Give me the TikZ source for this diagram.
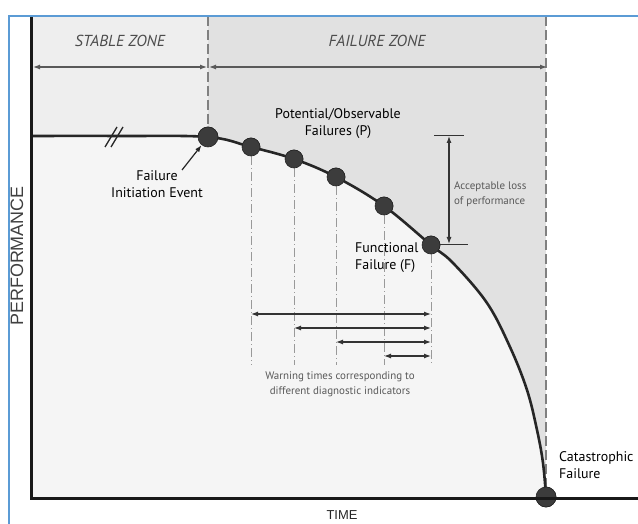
\documentclass[tikz,border=0pt]{standalone}
\usepackage{fontspec}
\setmainfont{PT Sans}
\newfontfamily\axisfont{Liberation Sans}
\usepackage{xcolor}
\usetikzlibrary{arrows.meta}
\definecolor{frameblue}{RGB}{91,155,213}
\definecolor{stablegray}{RGB}{238,238,238}
\definecolor{failgray}{RGB}{225,225,225}
\definecolor{undergray}{RGB}{245,245,245}
\definecolor{dotgray}{RGB}{60,60,60}

\begin{document}
\begin{tikzpicture}[x=1bp,y=-1bp,
  curve/.style={line width=2.6bp,draw=black!85},
  dot/.style={circle,fill=dotgray,draw=black!85,line width=0.6bp,inner sep=0pt,minimum size=18bp},
  vdash/.style={draw=black!40,line width=1bp,dash pattern=on 9bp off 3bp on 1bp off 3bp},
  zdash/.style={draw=black!50,line width=1.2bp,dash pattern=on 10bp off 4bp},
  tip/.style={line width=1.2bp,draw=black!80,{Latex[length=7bp,width=5bp]}-{Latex[length=7bp,width=5bp]}},
  lbl/.style={text=black,font=\fontsize{14}{17}\selectfont,inner sep=0pt},
  note/.style={text=black!65,font=\fontsize{11}{15}\selectfont,inner sep=0pt},
  zone/.style={text=black!70,font=\itshape\fontsize{16}{18}\selectfont}]
\clip (0,0) rectangle (638,524);
\fill[white] (0,0) rectangle (638,524);
\fill[stablegray] (31,16) rectangle (546,498);
\fill[failgray] (208,16) rectangle (546,498);
\node[dot,minimum size=20bp] (init) at (208,137) {};
\node[dot] (p1) at (251,147) {};
\node[dot] (p2) at (294,159) {};
\node[dot] (p3) at (336,177) {};
\node[dot] (p4) at (384,206) {};
\node[dot] (fnc) at (431,245) {};
\node[dot,minimum size=20bp] (cat) at (546,497) {};
\fill[undergray] plot[smooth,tension=0.6] coordinates {(31,136) (120,136) (init.center) (p1.center) (p2.center) (p3.center) (p4.center) (fnc.center) (453,263) (487,303) (510,347) (527,390) (537,430) (543,463) (cat.center)} -- (31,498) -- cycle;
\draw[zdash] (208,16) -- (init.north);
\draw[zdash] (546,16) -- (cat.north);
\foreach \d in {p1,p2,p3,p4,fnc}
  \draw[vdash] (\d.south) -- (\d |- 0,365);
\draw[curve] plot[smooth,tension=0.6] coordinates {(31,136) (120,136) (init.center) (p1.center) (p2.center) (p3.center) (p4.center) (fnc.center) (453,263) (487,303) (510,347) (527,390) (537,430) (543,463) (cat.center)};
\draw[line width=1.3bp,black!85] (105,147) -- (117,127) (111,147) -- (123,127);
\node[dot,minimum size=20bp] at (init) {};
\foreach \d in {p1,p2,p3,p4,fnc}
  \node[dot] at (\d) {};
\node[dot,minimum size=20bp] at (cat) {};
% axes and frame
\draw[line width=3bp,black!90] (31,16) -- (31,498) -- (638,498);
\draw[line width=2bp,frameblue] (9,524) -- (9,16) -- (638,16);
% zones
\node[zone] (stable) at (120,41) {STABLE ZONE};
\node[zone] (failure) at (377,41) {FAILURE ZONE};
\coordinate (sl) at (33,67);
\coordinate (sr) at (207,67);
\coordinate (fl) at (209,67);
\coordinate (fr) at (547,67);
\draw[tip,draw=black!65] (sl) -- (sr);
\draw[tip,draw=black!65] (fl) -- (fr);
% labels
\node[lbl,align=center] (initlbl) at (157,184) {Failure\\Initiation Event};
\draw[line width=1.2bp,black!85,-{Latex[length=7bp,width=5bp]}] (182,170) -- (init);
\node[lbl,align=center] (pot) at (338,124) {Potential/Observable\\Failures (P)};
\node[lbl,align=left,anchor=west] (fnclbl) at (355,258) {Functional\\Failure (F)};
\node[lbl,align=left,anchor=west] (catlbl) at (559,465) {Catastrophic\\Failure};
% acceptable loss
\coordinate (at) at (449,136);
\coordinate (ab) at (449,244);
\draw[line width=1bp,black!80] (434,136) -- (464,136) (fnc.east |- ab) -- (468,244);
\draw[tip] (at) -- (ab);
\node[note,align=left,anchor=west] (acc) at (454,194) {Acceptable loss\\of performance};
% warning times
\draw[tip] (p1 |- 0,314) -- (fnc |- 0,314);
\draw[tip] (p2 |- 0,328) -- (fnc |- 0,328);
\draw[tip] (p3 |- 0,342) -- (fnc |- 0,342);
\draw[tip] (p4 |- 0,356) -- (fnc |- 0,356);
\node[note,align=center] (warn) at (340,384) {Warning times corresponding to\\different diagnostic indicators};
% axis titles
\node[rotate=90,text=black!75,font=\axisfont\fontsize{18}{20}\selectfont] (perf) at (17,256) {PERFORMANCE};
\node[text=black!85,font=\axisfont\fontsize{13}{15}\selectfont,anchor=south,inner sep=0pt] (time) at (342,520) {TIME};
\end{tikzpicture}
\end{document}
